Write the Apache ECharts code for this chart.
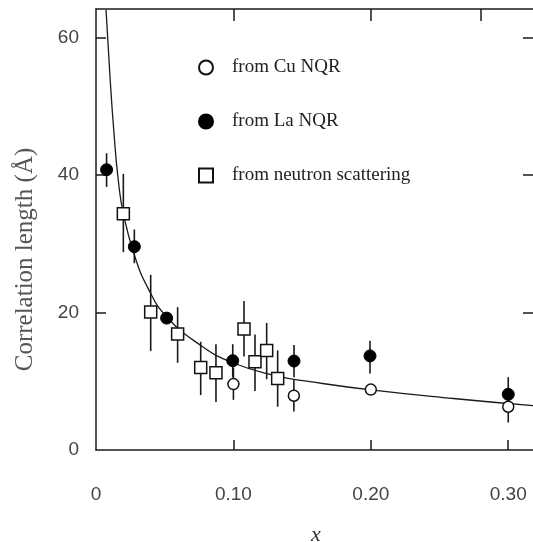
<!DOCTYPE html>
<html>
<head>
<meta charset="utf-8">
<script src="https://cdn.jsdelivr.net/npm/echarts@6/dist/echarts.min.js"></script>
<style>html,body{margin:0;padding:0;background:#fff;}#c{width:533px;height:542px;}</style>
</head>
<body>
<div id="c"></div>
<script>
// ---- data ----
const xTickLabels = ['0', '0.10', '0.20', '0.30'];
const xTickValues = [0, 0.1, 0.2, 0.3];
const yTickValues = [0, 20, 40, 60];

// from Cu NQR (open circles)
const cuX = [0.100, 0.144, 0.200, 0.300];
const cuY = [9.6, 7.9, 8.8, 6.3];
const cuLow = [7.3, 5.6, 8.2, 4.0];
const cuHigh = [12.0, 10.2, 9.4, 8.6];

// from La NQR (filled circles)
const laX = [0.0077, 0.0279, 0.0514, 0.0995, 0.1441, 0.1994, 0.300];
const laY = [40.8, 29.6, 19.2, 13.0, 12.95, 13.7, 8.1];
const laLow = [38.3, 27.2, 18.4, 10.6, 10.6, 11.15, 5.6];
const laHigh = [43.2, 32.1, 20.0, 15.4, 15.3, 15.9, 10.6];

// from neutron scattering (open squares)
const nsX = [0.0199, 0.0398, 0.0594, 0.0762, 0.0873, 0.1077, 0.1157, 0.1242, 0.1322];
const nsY = [34.4, 20.1, 16.9, 12.0, 11.25, 17.6, 12.85, 14.5, 10.4];
const nsLow = [28.8, 14.4, 12.7, 8.0, 7.0, 13.6, 8.6, 10.3, 6.3];
const nsHigh = [40.2, 25.5, 20.8, 15.75, 15.4, 21.7, 16.8, 18.5, 14.5];

// fitted curve
const curveX = [0.0073, 0.0102, 0.0131, 0.0162, 0.0199, 0.0279, 0.038, 0.0514, 0.0757, 0.0995, 0.1322, 0.1557, 0.2, 0.26, 0.321];
const curveY = [64.1, 54.3, 46.1, 39.3, 34.4, 28.4, 23.5, 19.4, 15.3, 12.7, 10.75, 9.95, 8.75, 7.5, 6.4];

const legendNames = ['from Cu NQR', 'from La NQR', 'from neutron scattering'];

// ---- build ----
const zip2 = (a, b) => a.map((v, i) => [v, b[i]]);
const zip3 = (a, b, c) => a.map((v, i) => [v, b[i], c[i]]);

function errRender(params, api) {
  const x = api.value(0), lo = api.value(1), hi = api.value(2);
  const p1 = api.coord([x, lo]), p2 = api.coord([x, hi]);
  return { type: 'line', shape: { x1: p1[0], y1: p1[1], x2: p2[0], y2: p2[1] },
           style: { stroke: '#1a1a1a', lineWidth: 1.6 } };
}
function errSeries(xs, lo, hi) {
  return { type: 'custom', renderItem: errRender, data: zip3(xs, lo, hi),
           encode: { x: 0, y: [1, 2] }, z: 3, silent: true };
}

const axisColor = '#1a1a1a';
const xMax = 0.3202;
const chart = echarts.init(document.getElementById('c'));
chart.setOption({
  animation: false,
  backgroundColor: '#fff',
  grid: { left: 96, top: 9, right: -3, bottom: 92, containLabel: false, outerBoundsMode: 'none' },
  legend: {
    data: legendNames,
    orient: 'vertical',
    left: 193, top: 53,
    itemWidth: 14, itemHeight: 14, itemGap: 35,
    textStyle: { fontFamily: 'Liberation Serif', fontSize: 19, color: '#222', padding: [0, 0, 0, 14] }
  },
  xAxis: [{
    type: 'value', position: 'bottom', min: 0, max: xMax,
    axisLine: { show: true, onZero: false, lineStyle: { color: axisColor, width: 1.5 } },
    axisTick: { show: true, inside: true, length: 10, customValues: [0.1, 0.2, 0.3], lineStyle: { color: axisColor, width: 1.5 } },
    axisLabel: { customValues: xTickValues, margin: 35, fontFamily: 'Liberation Sans', fontSize: 19, color: '#444',
      formatter: v => { const i = xTickValues.findIndex(t => Math.abs(t - v) < 1e-6); return i >= 0 ? xTickLabels[i] : ''; } },
    splitLine: { show: false },
    name: 'x', nameLocation: 'middle', nameGap: 74,
    nameTextStyle: { fontFamily: 'Liberation Serif', fontStyle: 'italic', fontSize: 22, color: '#333' }
  }, {
    type: 'value', position: 'top', min: 0, max: xMax,
    axisLine: { show: true, onZero: false, lineStyle: { color: axisColor, width: 1.5 } },
    axisTick: { show: true, inside: true, length: 12, customValues: [0.1, 0.2, 0.28], lineStyle: { color: axisColor, width: 1.5 } },
    axisLabel: { show: false },
    splitLine: { show: false }
  }],
  yAxis: [{
    type: 'value', position: 'left', min: 0, max: 64.2,
    axisLine: { show: true, onZero: false, lineStyle: { color: axisColor, width: 1.5 } },
    axisTick: { show: true, inside: true, length: 10, customValues: [20, 40, 60], lineStyle: { color: axisColor, width: 1.5 } },
    axisLabel: { customValues: yTickValues, margin: 17, fontFamily: 'Liberation Sans', fontSize: 19, color: '#444' },
    splitLine: { show: false },
    name: 'Correlation length (Å)', nameLocation: 'middle', nameGap: 58,
    nameTextStyle: { fontFamily: 'Liberation Serif', fontSize: 25, color: '#555', padding: [0, 60, 0, 0] }
  }, {
    type: 'value', position: 'right', min: 0, max: 64.2,
    axisLine: { show: true, onZero: false, lineStyle: { color: axisColor, width: 1.5 } },
    axisTick: { show: true, inside: true, length: 13, customValues: [20, 40, 60], lineStyle: { color: axisColor, width: 1.5 } },
    axisLabel: { show: false },
    splitLine: { show: false }
  }],
  series: [
    { type: 'line', data: zip2(curveX, curveY), showSymbol: false, smooth: 0.5,
      lineStyle: { color: '#1a1a1a', width: 1.3 }, z: 2, silent: true, clip: true },
    errSeries(cuX, cuLow, cuHigh),
    errSeries(laX, laLow, laHigh),
    errSeries(nsX, nsLow, nsHigh),
    { name: legendNames[0], type: 'scatter', data: zip2(cuX, cuY), symbol: 'circle', symbolSize: 11, z: 5,
      itemStyle: { color: '#fff', borderColor: '#111', borderWidth: 1.5, opacity: 1 } },
    { name: legendNames[1], type: 'scatter', data: zip2(laX, laY), symbol: 'circle', symbolSize: 12, z: 5,
      itemStyle: { color: '#000', borderColor: '#000', borderWidth: 1, opacity: 1 } },
    { name: legendNames[2], type: 'scatter', data: zip2(nsX, nsY), symbol: 'rect', symbolSize: 12, z: 5,
      itemStyle: { color: '#fff', borderColor: '#111', borderWidth: 1.5, opacity: 1 } }
  ]
});
</script>
</body>
</html>
